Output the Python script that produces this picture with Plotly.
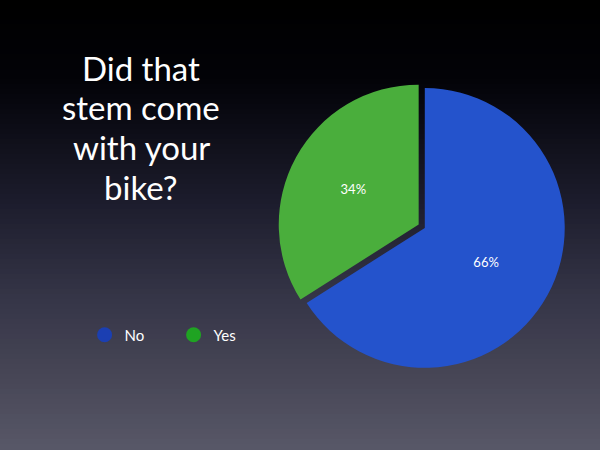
import plotly.graph_objects as go
import numpy as np

# ---- data ----
labels = ["No", "Yes"]
values = [66, 34]
slice_colors = ["#2453cc", "#4aae3c"]
legend_colors = ["#1b3fb2", "#1fa322"]
title_lines = ["Did that", "stem come", "with your", "bike?"]

W, H = 600, 450

fig = go.Figure()

fig.add_trace(go.Pie(
    labels=labels, values=values, sort=False, direction="clockwise",
    rotation=0, pull=[0, 0.05],
    marker=dict(colors=slice_colors, line=dict(width=0)),
    textinfo="percent", textposition="inside",
    insidetextfont=dict(color="white", size=13, family="Lato"),
    showlegend=False, hoverinfo="label+percent",
    domain=dict(x=[0.463, 0.953], y=[0.167, 0.82]),
))

for lab, col in zip(labels, legend_colors):
    fig.add_trace(go.Scatter(
        x=[None], y=[None], mode="markers", name=lab,
        marker=dict(color=col, size=15, symbol="circle"),
        showlegend=True,
    ))

# gradient background bands
stops_y = [0, 80, 200, 300, 380, 450]
stops_c = [(0, 0, 0), (3, 3, 8), (28, 28, 44), (54, 54, 72), (72, 71, 87), (88, 88, 104)]
shapes = []
n = 90
for i in range(n):
    y0 = i * H / n
    y1 = (i + 1) * H / n
    ym = (y0 + y1) / 2
    c = [int(np.interp(ym, stops_y, [s[k] for s in stops_c])) for k in range(3)]
    shapes.append(dict(type="rect", xref="paper", yref="paper",
                       x0=0, x1=1, y0=1 - y1 / H, y1=1 - y0 / H + 0.002,
                       fillcolor=f"rgb({c[0]},{c[1]},{c[2]})",
                       line=dict(width=0), layer="below"))

line_y = [68, 107, 147, 187]
annotations = [dict(
    text=t, x=141 / W, y=1 - yy / H,
    xref="paper", yref="paper", xanchor="center", yanchor="middle",
    showarrow=False, align="center",
    font=dict(family="Lato", size=33, color="white"),
) for t, yy in zip(title_lines, line_y)]

fig.update_layout(
    width=W, height=H,
    margin=dict(l=0, r=0, t=0, b=0),
    paper_bgcolor="black", plot_bgcolor="rgba(0,0,0,0)",
    xaxis=dict(visible=False), yaxis=dict(visible=False),
    shapes=shapes, annotations=annotations,
    legend=dict(orientation="h", x=0.141, y=1 - 335 / H, xanchor="left", yanchor="middle",
                font=dict(family="Lato", size=15, color="white"),
                bgcolor="rgba(0,0,0,0)", itemwidth=30, entrywidth=44, entrywidthmode="pixels"),
)

fig.write_html("out.html", config={"displayModeBar": False},
               post_script="document.body.style.margin='0';document.body.style.overflow='hidden';")
